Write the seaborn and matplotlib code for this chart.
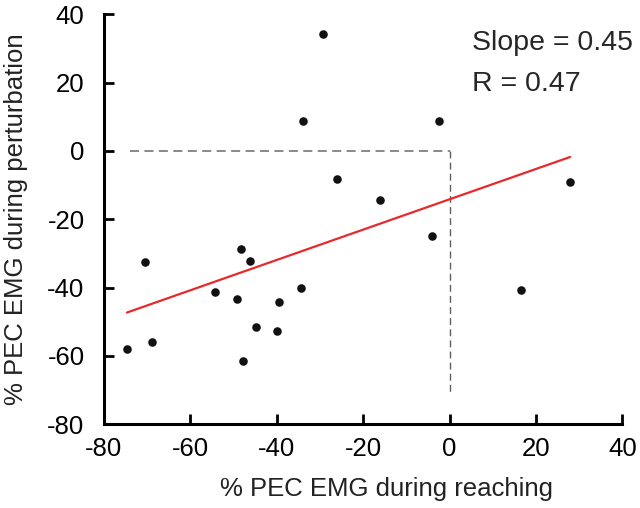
import numpy as np
import pandas as pd
import seaborn as sns
import matplotlib
matplotlib.use("Agg")
import matplotlib.pyplot as plt

# values
reaching = [-29.4, -34.0, -2.5, -26.1, -16.2, -4.1, 27.9, 16.6, -70.6, -48.3,
            -46.3, -54.4, -49.1, -39.5, -34.4, -44.7, -40.0, -68.9, -74.7, -47.8]
perturbation = [34.2, 8.6, 8.6, -8.3, -14.4, -24.9, -9.0, -40.8, -32.4, -28.7,
                 -32.3, -41.3, -43.4, -44.1, -40.1, -51.5, -52.8, -56.0, -58.0, -61.5]
ticks = [-80, -60, -40, -20, 0, 20, 40]
slope_txt = "Slope = 0.45"
r_txt = "R = 0.47"

df = pd.DataFrame({"reaching": reaching, "perturbation": perturbation})

sns.set_style("ticks")
plt.rcParams['font.family'] = ['Liberation Sans', 'DejaVu Sans']
plt.rcParams['axes.unicode_minus'] = False

fig = plt.figure(figsize=(6.4, 5.08), dpi=100)
ax = fig.add_axes([0.1625, 0.165, 0.81, 0.807])

# dashed reference lines
ax.plot([-74, 0], [0, 0], color='#808080', ls=(0, (5, 3)), lw=1.3, zorder=1)
ax.plot([0, 0], [0, -71], color='#606060', ls=(0, (5, 3)), lw=1.0, zorder=1)

sns.regplot(data=df, x="reaching", y="perturbation", ax=ax, ci=None,
            scatter_kws=dict(color='#111111', s=38, linewidths=0, alpha=1, zorder=3),
            line_kws=dict(color='#e8292b', lw=1.6, zorder=2))

ax.set_xlim(-80, 40)
ax.set_ylim(-80, 40)
ax.set_xticks(ticks)
ax.set_yticks(ticks)
ax.tick_params(direction='in', length=7, width=2, labelsize=18.5, colors='black')
ax.tick_params(axis='x', pad=9)
ax.tick_params(axis='y', pad=14)
for s in ['top', 'right']:
    ax.spines[s].set_visible(False)
for s in ['left', 'bottom']:
    ax.spines[s].set_linewidth(2.2)
    ax.spines[s].set_color('black')

ax.set_xlabel("% PEC EMG during reaching", fontsize=18.5, color='#222222')
ax.set_ylabel("% PEC EMG during perturbation", fontsize=18.5, labelpad=14, color='#222222')
ax.xaxis.set_label_coords(0.544, -0.128)

ax.text(5.2, 29.6, slope_txt, fontsize=20.5, va='baseline')
ax.text(5.2, 17.6, r_txt, fontsize=20.5, va='baseline')

fig.savefig("out.png", dpi=100)
